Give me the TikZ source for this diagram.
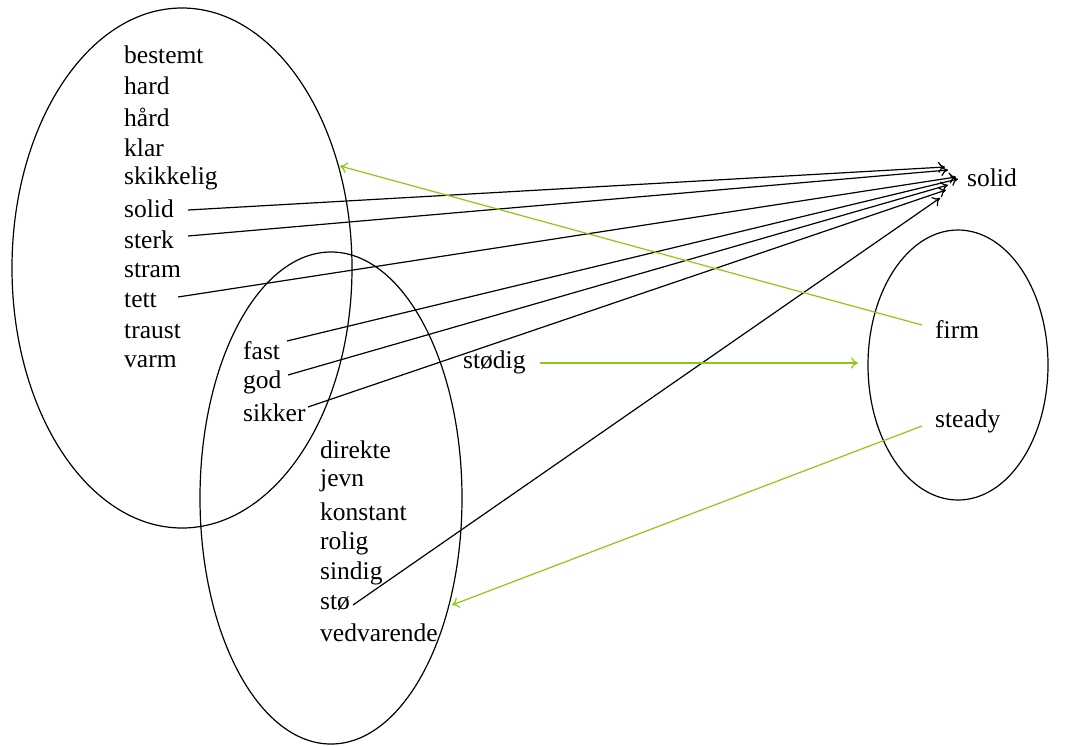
\documentclass[tikz,border=0pt]{standalone}
\usepackage{fontspec}
\setmainfont{Liberation Serif}
\usetikzlibrary{arrows.meta}
\definecolor{lgreen}{RGB}{140,200,20}
\begin{document}
\begin{tikzpicture}[x=1pt,y=-1pt,
  word/.style={anchor=west,inner sep=0pt,font=\fontsize{25.5}{25.5}\selectfont},
  ell/.style={draw=black,line width=1.2pt},
  blk/.style={draw=black,line width=1.2pt,-{To[length=7pt,width=11pt]}},
  grn/.style={draw=lgreen,line width=1.2pt,-{To[length=7pt,width=11pt]}}]
\useasboundingbox (0,0) rectangle (1070,745);
% ellipses
\draw[ell] (182,268) ellipse [x radius=170,y radius=260];
\draw[ell] (331,498) ellipse [x radius=131,y radius=246];
\draw[ell] (958,365) ellipse [x radius=90,y radius=135];
% left column
\node[word] (bestemt) at (124,55) {bestemt};
\node[word] (hard) at (124,86) {hard};
\node[word] (haard) at (124,117) {hård};
\node[word] (klar) at (124,148) {klar};
\node[word] (skikkelig) at (124,178) {skikkelig};
\node[word] (solidl) at (124,209) {solid};
\node[word] (sterk) at (124,240) {sterk};
\node[word] (stram) at (124,270) {stram};
\node[word] (tett) at (124,300) {tett};
\node[word] (traust) at (124,331) {traust};
\node[word] (varm) at (124,362) {varm};
% overlap
\node[word] (fast) at (243,351) {fast};
\node[word] (god) at (243,382) {god};
\node[word] (sikker) at (243,413) {sikker};
% middle
\node[word] (direkte) at (320,450) {direkte};
\node[word] (jevn) at (320,481) {jevn};
\node[word] (konstant) at (320,512) {konstant};
\node[word] (rolig) at (320,543) {rolig};
\node[word] (sindig) at (320,573) {sindig};
\node[word] (sto) at (320,603) {stø};
\node[word] (vedvarende) at (320,633) {vedvarende};
\node[word] (stodig) at (463,362) {stødig};
% right
\node[word] (solidr) at (967,178) {solid};
\node[word] (firm) at (935,330) {firm};
\node[word] (steady) at (935,421) {steady};
% targets
\coordinate (t1) at (945,167);
\coordinate (t2) at (948,170);
\coordinate (t3) at (956,177);
\coordinate (t4) at (958,179);
\coordinate (t5) at (948,185);
\coordinate (t6) at (946,190);
\coordinate (t7) at (940,198);
\coordinate (g1) at (340,166);
\coordinate (g2) at (858,363);
\coordinate (g3) at (452,605);
\coordinate (s1) at (188,210);
\coordinate (s2) at (188,236);
\coordinate (s3) at (178,297);
\coordinate (s4) at (287,341);
\coordinate (s5) at (288,375);
\coordinate (s6) at (308,407);
\coordinate (s7) at (353,605);
\coordinate (f1) at (922,325);
\coordinate (f2) at (540,363);
\coordinate (f3) at (922,426);
% black arrows
\draw[blk] (s1) -- (t1);
\draw[blk] (s2) -- (t2);
\draw[blk] (s3) -- (t3);
\draw[blk] (s4) -- (t4);
\draw[blk] (s5) -- (t5);
\draw[blk] (s6) -- (t6);
\draw[blk] (s7) -- (t7);
% green arrows
\draw[grn] (f1) -- (g1);
\draw[grn] (f2) -- (g2);
\draw[grn] (f3) -- (g3);
\end{tikzpicture}
\end{document}
